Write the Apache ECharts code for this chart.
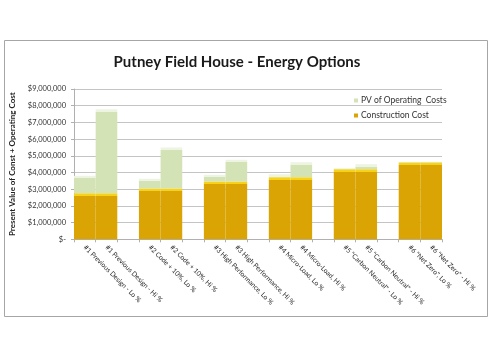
<!DOCTYPE html>
<html>
<head>
<meta charset="utf-8">
<script src="https://cdn.jsdelivr.net/npm/echarts@6/dist/echarts.min.js"></script>
<style>html,body{margin:0;padding:0;background:#fff;}#c{width:493px;height:356px;}</style>
</head>
<body>
<div id="c"></div>
<script>
// Categories (blank entries are the gaps between option pairs)
var categories = [
  '#1 Previous Design - Lo %', '#1 Previous Design - Hi %', '',
  '#2 Code + 10%, Lo %', '#2 Code + 10%, Hi %', '',
  '#3 High Performance, Lo %', '#3 High Performance, Hi %', '',
  '#4 Micro-Load, Lo %', '#4 Micro-Load, Hi %', '',
  '#5 "Carbon Neutral" - Lo %', '#5 "Carbon Neutral" - Hi %', '',
  '#6 "Net Zero", Lo %', '#6 "Net Zero" - Hi %'
];
var constructionCost = [
  2760000, 2760000, null,
  3040000, 3040000, null,
  3460000, 3460000, null,
  3720000, 3720000, null,
  4200000, 4200000, null,
  4600000, 4600000
];
var pvOperatingCosts = [
  1040000, 5020000, null,
  580000, 2460000, null,
  400000, 1300000, null,
  180000, 900000, null,
  60000, 300000, null,
  20000, 40000
];
var yTickLabels = ['$-', '$1,000,000', '$2,000,000', '$3,000,000', '$4,000,000',
  '$5,000,000', '$6,000,000', '$7,000,000', '$8,000,000', '$9,000,000'];
var seriesNames = ['Construction Cost', 'PV of Operating  Costs'];
var titleText = 'Putney Field House - Energy Options';
var yAxisName = 'Present Value of Const + Operating Cost';

var chart = echarts.init(document.getElementById('c'), null, {renderer: 'canvas'});
var plotH = 150.3, yMax = 9000000;

function stripeData(vals, topColor, bodyColor) {
  return vals.map(function (v) {
    if (v == null) return '-';
    var h = v / yMax * plotH;
    var s = Math.min(0.9, 2.5 / Math.max(h, 0.1));
    return {
      value: v,
      itemStyle: {
        color: new echarts.graphic.LinearGradient(0, 0, 0, 1, [
          {offset: 0, color: topColor},
          {offset: s, color: topColor},
          {offset: Math.min(1, s + 0.0001), color: bodyColor},
          {offset: 1, color: bodyColor}
        ])
      }
    };
  });
}

var option = {
  animation: false,
  backgroundColor: '#ffffff',
  title: {
    text: titleText,
    left: 232, top: 50, textAlign: 'center',
    textStyle: {fontFamily: 'Lato', fontWeight: 'bold', fontSize: 15, color: '#1a1a1a'}
  },
  graphic: [{
    type: 'rect', shape: {x: 4.5, y: 40.5, width: 483, height: 276},
    style: {fill: null, stroke: '#a6a6a6', lineWidth: 1}, z: -1
  }],
  legend: {
    orient: 'vertical', left: 349, top: 91, itemGap: 6,
    itemWidth: 4, itemHeight: 4, icon: 'rect',
    data: [seriesNames[1], seriesNames[0]],
    textStyle: {fontFamily: 'Lato', fontSize: 8.5, color: '#333', padding: [0, 0, 0, -2]}
  },
  grid: {left: 72, right: 51, top: 89, bottom: 116.7, containLabel: false},
  xAxis: {
    type: 'category', data: categories,
    axisLine: {lineStyle: {color: '#b0b0b0'}},
    axisTick: {show: true, interval: 0, length: 3, lineStyle: {color: '#b0b0b0'}},
    axisLabel: {
      interval: 0, rotate: -45, margin: 7,
      fontFamily: 'Lato', fontSize: 6.8, color: '#2a2a2a'
    }
  },
  yAxis: {
    type: 'value', min: 0, max: yMax, interval: 1000000,
    name: yAxisName, nameLocation: 'middle', nameGap: 58, nameRotate: 90,
    nameTextStyle: {fontFamily: 'Lato', fontWeight: 'bold', fontSize: 8, color: '#222'},
    axisLine: {show: true, lineStyle: {color: '#b0b0b0'}},
    axisTick: {show: true, length: 3, lineStyle: {color: '#b0b0b0'}},
    splitLine: {lineStyle: {color: '#c4c4c4'}},
    axisLabel: {
      fontFamily: 'Lato', fontSize: 7.5, color: '#333', margin: 8,
      formatter: function (v) { return yTickLabels[Math.round(v / 1000000)]; }
    }
  },
  series: [{
    name: seriesNames[0], type: 'bar', stack: 'total',
    barCategoryGap: 0, barGap: 0,
    itemStyle: {color: '#d9a404', borderWidth: 0},
    data: stripeData(constructionCost, '#f6d31a', '#d9a404')
  }, {
    name: seriesNames[1], type: 'bar', stack: 'total',
    barCategoryGap: 0, barGap: 0,
    itemStyle: {color: '#d4e3b5', borderWidth: 0},
    data: stripeData(pvOperatingCosts, '#eef4e2', '#d4e3b5')
  }]
};
chart.setOption(option);
</script>
</body>
</html>
